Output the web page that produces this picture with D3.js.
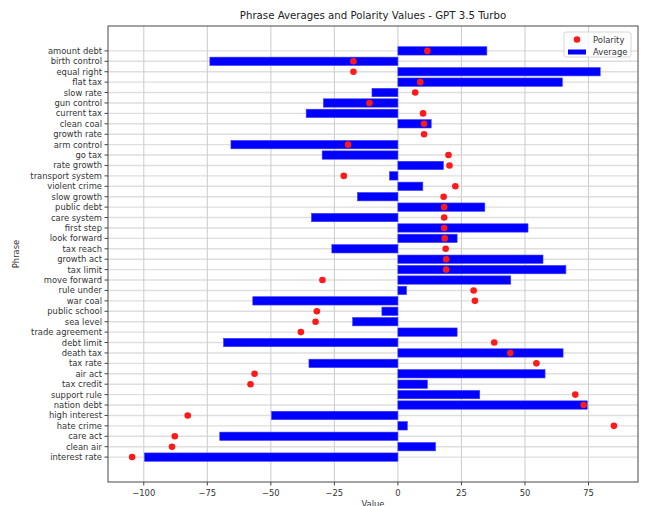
<!DOCTYPE html>
<html>
<head>
	<title>Phrase Averages and Polarity Values</title>
	<script src="https://d3js.org/d3.v7.min.js"></script>
	<style>
		body { margin: 0; background: #fff; }
		text { font-family: "DejaVu Sans", sans-serif; }
	</style>
</head>
<body>
<section id="container"></section>
<script>
//Phrases, top to bottom
var phrases = ["amount debt","birth control","equal right","flat tax","slow rate","gun control",
	"current tax","clean coal","growth rate","arm control","go tax","rate growth","transport system",
	"violent crime","slow growth","public debt","care system","first step","look forward","tax reach",
	"growth act","tax limit","move forward","rule under","war coal","public school","sea level",
	"trade agreement","debt limit","death tax","tax rate","air act","tax credit","support rule",
	"nation debt","high interest","hate crime","care act","clean air","interest rate"];

//Average values (bars)
var averages = [35.0,-74.0,79.6,64.7,-10.2,-29.3,-36.1,13.1,0,-65.7,-29.8,17.9,-3.3,
	9.8,-15.9,34.2,-34.0,51.2,23.3,-26.0,57.1,66.1,44.4,3.4,-57.1,-6.3,-17.8,
	23.3,-68.6,65.0,-35.0,57.9,11.6,32.2,74.5,-49.7,3.7,-70.1,14.8,-99.7];

//Polarity values (dots)
var polarity = [11.6,-17.5,-17.5,8.8,6.8,-11.2,9.9,10.3,10.3,-19.6,19.9,20.3,-21.3,
	22.6,18.0,18.2,18.2,18.2,18.4,18.8,19.0,19.0,-29.7,29.8,30.3,-31.9,-32.4,
	-38.2,37.9,44.2,54.5,-56.4,-58.0,69.8,73.1,-82.7,85.0,-87.8,-88.9,-104.6];

var xTicks = [-100,-75,-50,-25,0,25,50,75];

var W = 645, H = 506;
//plot box (note: "top" is reserved on window, so use m* names)
var mLeft = 108, mRight = 638, mTop = 26, mBottom = 482;

var svg = d3.select("#container")
	.append("svg")
	.attr("width",W)
	.attr("height",H);

//Domain with 5% margins like matplotlib
var lo = d3.min(averages.concat(polarity)), hi = d3.max(averages.concat(polarity));
var pad = (hi - lo) * 0.05;
var x = d3.scaleLinear().domain([lo - pad, hi + pad]).range([mLeft, mRight]);

//Index 0 is the bottom row
var n = phrases.length;
var yPad = (n - 1 + 0.8) * 0.05;
var y = d3.scaleLinear().domain([-0.4 - yPad, n - 1 + 0.4 + yPad]).range([mBottom, mTop]);
var rowY = function(i) { return y(n - 1 - i); };

//Grid
var grid = svg.append("g");
grid.selectAll("line.h")
	.data(phrases)
	.enter().append("line")
	.attr("class","h")
	.attr("x1",mLeft).attr("x2",mRight)
	.attr("y1",function(d,i){ return rowY(i); })
	.attr("y2",function(d,i){ return rowY(i); })
	.attr("stroke","#dedede")
	.attr("stroke-width",1.4);
grid.selectAll("line.v")
	.data(xTicks)
	.enter().append("line")
	.attr("class","v")
	.attr("x1",function(d){ return x(d); })
	.attr("x2",function(d){ return x(d); })
	.attr("y1",mTop).attr("y2",mBottom)
	.attr("stroke","#cfcfcf")
	.attr("stroke-width",1.1);

//Bars
var bh = y(0) - y(0.8);
svg.append("g").selectAll("rect")
	.data(averages)
	.enter().append("rect")
	.attr("x",function(d){ return x(Math.min(0,d)); })
	.attr("width",function(d){ return Math.abs(x(d) - x(0)); })
	.attr("y",function(d,i){ return rowY(i) - bh/2; })
	.attr("height",bh)
	.attr("fill","#0000ff")
	.attr("stroke","#3a3aff")
	.attr("stroke-width",0.6);

//Polarity dots
svg.append("g").selectAll("circle")
	.data(polarity)
	.enter().append("circle")
	.attr("cx",function(d){ return x(d); })
	.attr("cy",function(d,i){ return rowY(i); })
	.attr("r",3.3)
	.attr("fill","#ff1a1a");

//Frame
svg.append("rect")
	.attr("x",mLeft).attr("y",mTop)
	.attr("width",mRight-mLeft).attr("height",mBottom-mTop)
	.attr("fill","none")
	.attr("stroke","#666")
	.attr("stroke-width",1.2);

//Y axis ticks and labels
var ya = svg.append("g");
ya.selectAll("line")
	.data(phrases)
	.enter().append("line")
	.attr("x1",mLeft-3.5).attr("x2",mLeft)
	.attr("y1",function(d,i){ return rowY(i); })
	.attr("y2",function(d,i){ return rowY(i); })
	.attr("stroke","#444");
ya.selectAll("text")
	.data(phrases)
	.enter().append("text")
	.attr("x",mLeft-6)
	.attr("y",function(d,i){ return rowY(i); })
	.attr("text-anchor","end")
	.attr("dominant-baseline","central")
	.attr("font-size","8.4px")
	.attr("fill","#333")
	.text(function(d){ return d; });

//X axis ticks and labels
var xa = svg.append("g");
xa.selectAll("line")
	.data(xTicks)
	.enter().append("line")
	.attr("x1",function(d){ return x(d); })
	.attr("x2",function(d){ return x(d); })
	.attr("y1",mBottom).attr("y2",mBottom+3.5)
	.attr("stroke","#444");
xa.selectAll("text")
	.data(xTicks)
	.enter().append("text")
	.attr("x",function(d){ return x(d); })
	.attr("y",mBottom+14)
	.attr("text-anchor","middle")
	.attr("font-size","8.4px")
	.attr("fill","#333")
	.text(function(d){ return d < 0 ? "\u2212" + Math.abs(d) : d; });

//Title and axis labels
svg.append("text")
	.attr("x",(mLeft+mRight)/2)
	.attr("y",19)
	.attr("text-anchor","middle")
	.attr("font-size","10.2px")
	.attr("fill","#222")
	.text("Phrase Averages and Polarity Values - GPT 3.5 Turbo");

svg.append("text")
	.attr("x",(mLeft+mRight)/2)
	.attr("y",507)
	.attr("text-anchor","middle")
	.attr("font-size","8.4px")
	.attr("fill","#333")
	.text("Value");

svg.append("text")
	.attr("transform","translate(19," + ((mTop+mBottom)/2) + ") rotate(-90)")
	.attr("text-anchor","middle")
	.attr("font-size","8.4px")
	.attr("fill","#333")
	.text("Phrase");

//Legend
var lg = svg.append("g");
lg.append("rect")
	.attr("x",564).attr("y",32)
	.attr("width",67).attr("height",25)
	.attr("rx",2)
	.attr("fill","#fff")
	.attr("fill-opacity",0.8)
	.attr("stroke","#d6d6d6");
lg.append("circle")
	.attr("cx",577).attr("cy",39.5)
	.attr("r",3.3)
	.attr("fill","#ff1a1a");
lg.append("rect")
	.attr("x",568).attr("y",49.5)
	.attr("width",18).attr("height",5)
	.attr("fill","#0000ff");
lg.append("text")
	.attr("x",593).attr("y",39.5)
	.attr("dominant-baseline","central")
	.attr("font-size","8.4px")
	.attr("fill","#333")
	.text("Polarity");
lg.append("text")
	.attr("x",593).attr("y",52)
	.attr("dominant-baseline","central")
	.attr("font-size","8.4px")
	.attr("fill","#333")
	.text("Average");
</script>
</body>
</html>
